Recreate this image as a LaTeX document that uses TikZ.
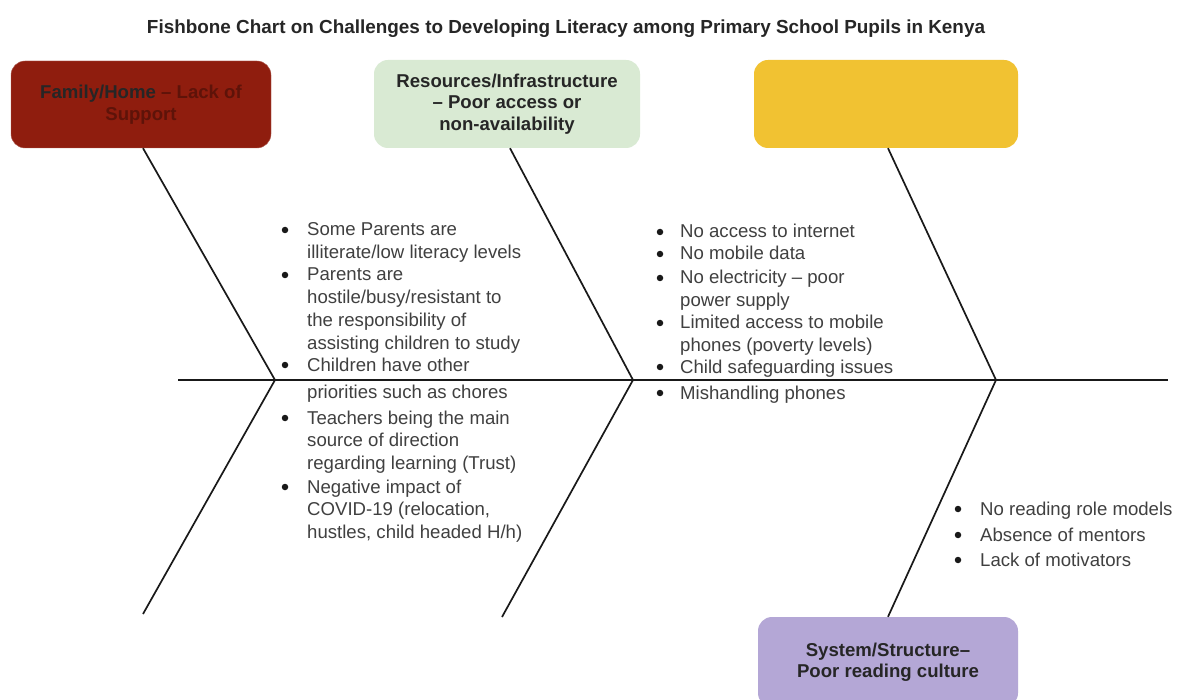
\documentclass[tikz,border=0pt]{standalone}
\usepackage{fontspec}
\setmainfont{Liberation Sans}
\definecolor{famred}{HTML}{8F1D0E}
\definecolor{famtxt}{HTML}{5E1309}
\definecolor{resgreen}{HTML}{D9EAD3}
\definecolor{yel}{HTML}{F1C232}
\definecolor{purp}{HTML}{B4A7D6}
\newcommand\mylines[1]{\vtop{\baselineskip=22.8pt\lineskiplimit=-100pt\halign{##\hfil\cr#1\crcr}}}
\begin{document}
\begin{tikzpicture}[x=1pt,y=-1pt,
  catbox/.style={rounded corners=14pt, inner sep=0pt, align=center,
    font=\bfseries\fontsize{18.6}{21.5}\selectfont},
  bone/.style={line width=1.7pt, black!90},
  item/.style={anchor=base west, inner sep=0pt,
    font=\fontsize{18.6}{22.8}\selectfont, text=black!75},
  bul/.style={circle, fill=black!90, inner sep=0pt, minimum size=6.5pt, yshift=6pt}]
\useasboundingbox (0,0) rectangle (1177,700);
\fill[white] (0,0) rectangle (1177,700);

\node[font=\bfseries\fontsize{18.9}{22}\selectfont, text=black!85] (title) at (566,29)
  {Fishbone Chart on Challenges to Developing Literacy among Primary School Pupils in Kenya};

% category boxes
\node[catbox, fill=famred, draw=famred!70!white, minimum width=260pt, minimum height=87pt] (fam) at (141,104.5)
  {\textcolor{black!85}{Family/Home} \textcolor{famtxt}{– Lack of}\\\textcolor{famtxt}{Support}};
\node[catbox, fill=resgreen, minimum width=266pt, minimum height=88pt, text=black!85] (res) at (507,104)
  {Resources/Infrastructure\\– Poor access or\\non-availability};
\node[catbox, fill=yel, minimum width=264pt, minimum height=88pt] (yb) at (886,104) {};
\node[catbox, fill=purp, minimum width=260pt, minimum height=90pt, text=black!85] (sys) at (888,662)
  {System/Structure–\\Poor reading culture};

% spine and bones
\coordinate (s0) at (178,380);
\coordinate (s1) at (1168,380);
\coordinate (v1) at (275,380);
\coordinate (v2) at (633,380);
\coordinate (v3) at (996,380);
\coordinate (b1) at (143,614);
\coordinate (b2) at (502,617);
\draw[bone] (s0) -- (s1);
\draw[bone] ([xshift=2pt]fam.south) -- (v1) -- (b1);
\draw[bone] ([xshift=3pt]res.south) -- (v2) -- (b2);
\draw[bone] ([xshift=2pt]yb.south) -- (v3) -- (sys.north);

% list 1
\node[bul] (l1b1) at (285,236) {};
\node[item] (l1t1) at (307,236) {\mylines{Some Parents are\cr illiterate/low literacy levels}};
\node[bul] (l1b2) at (285,281) {};
\node[item] (l1t2) at (307,281) {\mylines{Parents are\cr hostile/busy/resistant to\cr the responsibility of\cr assisting children to study}};
\node[bul] (l1b3) at (285,371) {};
\node[item] (l1t3) at (307,371) {\mylines{Children have other\cr\noalign{\vskip5pt}priorities such as chores}};
\node[bul] (l1b4) at (285,424) {};
\node[item] (l1t4) at (307,424) {\mylines{Teachers being the main\cr source of direction\cr regarding learning (Trust)}};
\node[bul] (l1b5) at (285,493) {};
\node[item] (l1t5) at (307,493) {\mylines{Negative impact of\cr COVID-19 (relocation,\cr hustles, child headed H/h)}};

% list 2
\node[bul] (l2b1) at (660,238) {};
\node[item] (l2t1) at (680,238) {No access to internet};
\node[bul] (l2b2) at (660,260) {};
\node[item] (l2t2) at (680,260) {No mobile data};
\node[bul] (l2b3) at (660,284) {};
\node[item] (l2t3) at (680,284) {\mylines{No electricity – poor\cr power supply}};
\node[bul] (l2b4) at (660,329) {};
\node[item] (l2t4) at (680,329) {\mylines{Limited access to mobile\cr phones (poverty levels)}};
\node[bul] (l2b5) at (660,373) {};
\node[item] (l2t5) at (680,373) {Child safeguarding issues};
\node[bul] (l2b6) at (660,399) {};
\node[item] (l2t6) at (680,399) {Mishandling phones};

% list 3
\node[bul] (l3b1) at (958,515) {};
\node[item] (l3t1) at (980,515) {No reading role models};
\node[bul] (l3b2) at (958,541) {};
\node[item] (l3t2) at (980,541) {Absence of mentors};
\node[bul] (l3b3) at (958,566) {};
\node[item] (l3t3) at (980,566) {Lack of motivators};
\end{tikzpicture}
\end{document}
